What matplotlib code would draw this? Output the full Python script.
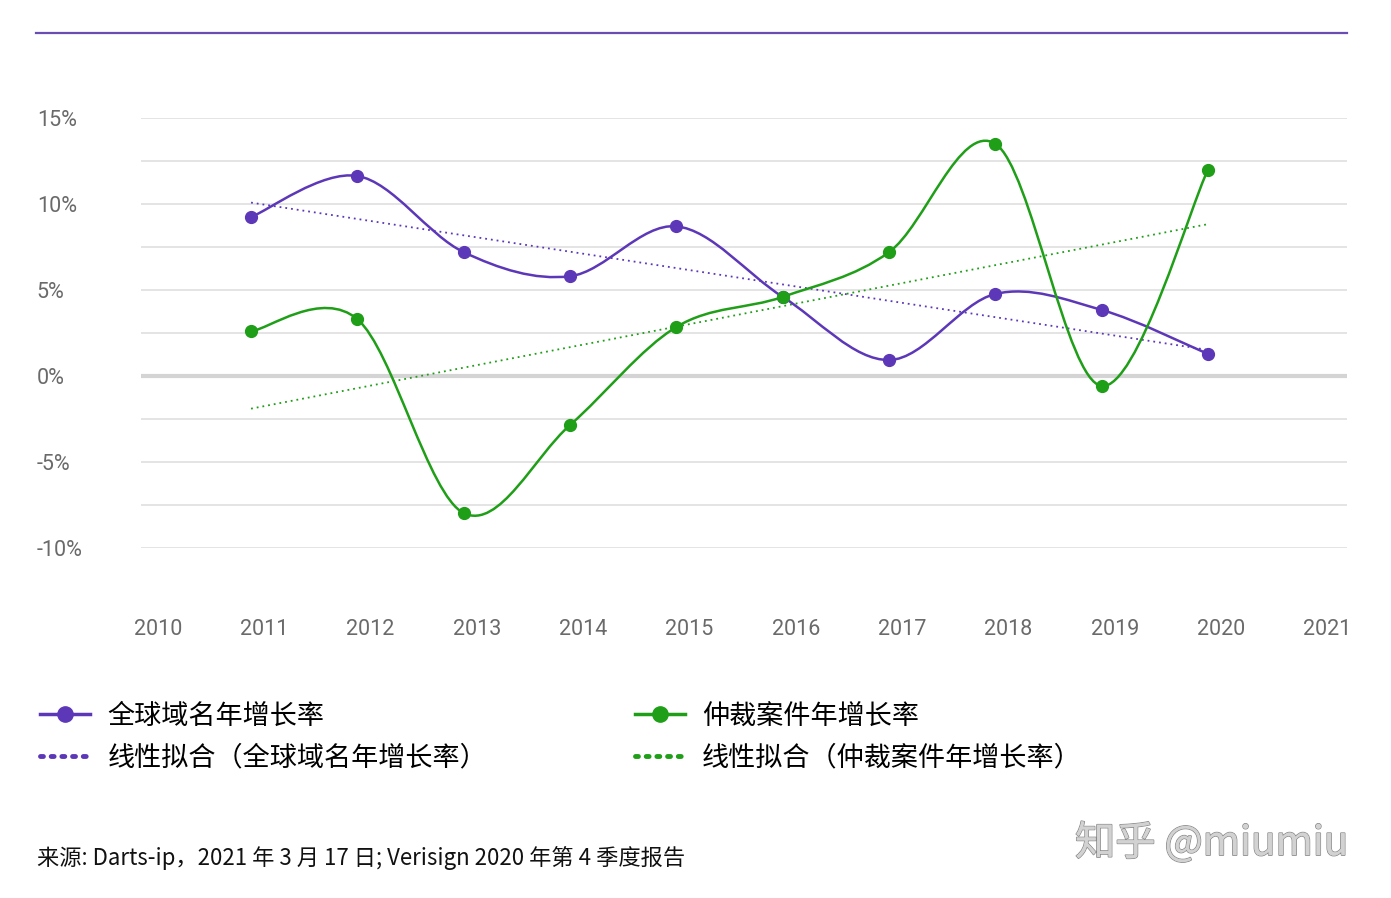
import numpy as np
import matplotlib
matplotlib.use("Agg")
import matplotlib.pyplot as plt
from matplotlib.path import Path
from matplotlib.patches import PathPatch
from matplotlib.lines import Line2D
import matplotlib.transforms as mtransforms
import matplotlib.patheffects as pe

plt.rcParams['font.family'] = ['Noto Sans CJK SC', 'DejaVu Sans']

years = [2011, 2012, 2013, 2014, 2015, 2016, 2017, 2018, 2019, 2020]
domain_growth = [9.24, 11.63, 7.2, 5.8, 8.7, 4.6, 0.93, 4.77, 3.84, 1.28]
dispute_growth = [2.6, 3.3, -7.97, -2.85, 2.85, 4.6, 7.2, 13.5, -0.58, 12.0]
year_ticks = list(range(2010, 2022))
pct_ticks = [15, 10, 5, 0, -5, -10]
grid_levels = [15, 12.5, 10, 7.5, 5, 2.5, -2.5, -5, -7.5, -10]

purple = '#5c37b8'
green = '#1f9e17'
tick_grey = '#6a6a6a'
tick_font = ['Roboto', 'DejaVu Sans']


def smooth_path(xs, ys):
    # Catmull-Rom through the points, drawn as cubic Bezier segments
    p = np.column_stack([xs, ys]).astype(float)
    p_ext = np.vstack([p[0], p, p[-1]])
    verts = [p[0]]
    codes = [Path.MOVETO]
    for i in range(1, len(p_ext) - 2):
        p0, p1, p2, p3 = p_ext[i - 1], p_ext[i], p_ext[i + 1], p_ext[i + 2]
        verts += [p1 + (p2 - p0) / 6, p2 - (p3 - p1) / 6, p2]
        codes += [Path.CURVE4] * 3
    return Path(verts, codes)


fig = plt.figure(figsize=(13.91, 8.98), dpi=100)
ax = fig.add_axes([141 / 1391, 1 - 548 / 898, 1206 / 1391, 430 / 898])
ax.set_xlim(2009.965, 2021.307)
ax.set_ylim(-10, 15)

for g in grid_levels:
    ax.axhline(g, color='#dcdcdc', lw=1.1, zorder=0)
ax.axhline(0, color='#d4d4d4', lw=3, zorder=0)

for vals, col in [(domain_growth, purple), (dispute_growth, green)]:
    ax.add_patch(PathPatch(smooth_path(years, vals), fill=False, edgecolor=col,
                           lw=1.8, zorder=3, clip_on=False))
    ax.plot(years, vals, 'o', color=col, ms=8.5, zorder=4, clip_on=False)
    k, b = np.polyfit(years, vals, 1)
    fit = np.polyval([k, b], years)
    ax.plot([years[0], years[-1]], [fit[0], fit[-1]], color=col, lw=1.3,
            ls=(0, (1, 2.2)), zorder=2, clip_on=False)

for s in ax.spines.values():
    s.set_visible(False)
ax.set_xticks(year_ticks)
ax.set_xticklabels([str(y) for y in year_ticks])
ax.set_yticks(pct_ticks)
ax.set_yticklabels([f'{v}%' for v in pct_ticks])
ax.tick_params(length=0, colors=tick_grey, labelsize=15.5)
ax.tick_params(axis='x', pad=51)
ax.tick_params(axis='y', pad=75)
for lab in ax.get_yticklabels():
    lab.set_horizontalalignment('left')
    lab.set_fontfamily(tick_font)
shift = mtransforms.ScaledTranslation(13 / 100, 0, fig.dpi_scale_trans)
for lab in ax.get_xticklabels():
    lab.set_transform(lab.get_transform() + shift)
    lab.set_fontfamily(tick_font)

# top rule
fig.add_artist(Line2D([36 / 1391, 1347 / 1391], [1 - 33 / 898, 1 - 33 / 898],
                      color='#6a4db3', lw=1.6))

handles = [
    Line2D([], [], color=purple, lw=2.5, marker='o', ms=11),
    Line2D([], [], color=purple, lw=3.5, ls=(0, (0.6, 1.6)), dash_capstyle='round'),
    Line2D([], [], color=green, lw=2.5, marker='o', ms=11),
    Line2D([], [], color=green, lw=3.5, ls=(0, (0.6, 1.6)), dash_capstyle='round'),
]
labels = ['全球域名年增长率', '线性拟合（全球域名年增长率）',
          '仲裁案件年增长率', '线性拟合（仲裁案件年增长率）']
fig.legend(handles, labels, ncol=2, loc='upper left',
           bbox_to_anchor=(16 / 1391, 1 - 678 / 898), frameon=False,
           fontsize=19.5, handlelength=1.85, handletextpad=0.63,
           labelspacing=0.56, columnspacing=5.45)

fig.text(37 / 1391, 1 - 858 / 898,
         '来源: Darts-ip，2021 年 3 月 17 日; Verisign 2020 年第 4 季度报告',
         fontsize=16, va='center', ha='left', color='#111111')

fig.text(1075 / 1391, 1 - 843 / 898, '知乎 @miumiu', fontsize=29,
         va='center', ha='left', color='#d2d2d2',
         path_effects=[pe.withStroke(linewidth=1.2, foreground='#8a8a8a'),
                       pe.Normal()])

fig.savefig('out.png', dpi=100, facecolor='white')
